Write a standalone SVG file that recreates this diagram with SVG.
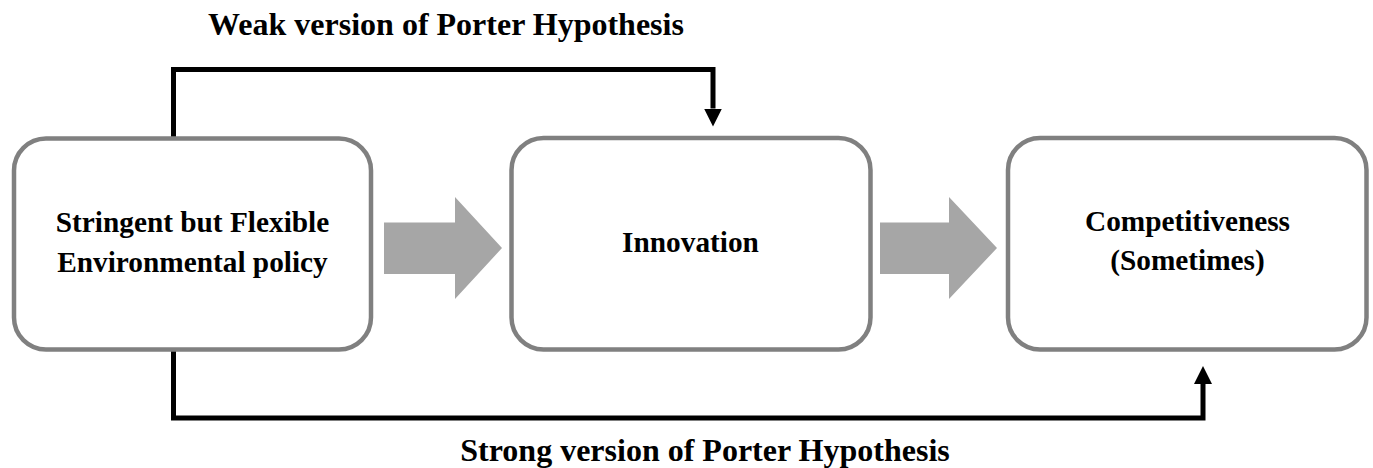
<svg xmlns="http://www.w3.org/2000/svg" width="1373" height="468" viewBox="0 0 1373 468">
  <style>
    .box { fill: #ffffff; stroke: #808080; stroke-width: 4.5; }
    .lbl { font-family: "Liberation Serif", "Times New Roman", serif; font-weight: bold; fill: #000000; text-anchor: middle; }
    .node { font-size: 29.3px; }
    .title { font-size: 32px; }
    .conn { fill: none; stroke: #000000; stroke-width: 5; stroke-linejoin: miter; }
    .big { fill: #a6a6a6; }
  </style>
  <defs>
    <marker id="ah" viewBox="0 0 18 18" markerWidth="18" markerHeight="18" markerUnits="userSpaceOnUse" refX="0" refY="9" orient="auto">
      <path d="M0,0 L18,9 L0,18 Z" fill="#000000"/>
    </marker>
  </defs>
  <rect width="1373" height="468" fill="#ffffff"/>

  <g id="connectors">
    <path class="conn" d="M173.5,138 L173.5,69.5 L713,69.5 L713,108.5" marker-end="url(#ah)"/>
    <path class="conn" d="M173.5,350 L173.5,418 L1203,418 L1203,384" marker-end="url(#ah)"/>
    <polygon class="big" points="384,222.5 455,222.5 455,197 502,248 455,299 455,274 384,274"/>
    <polygon class="big" points="880,222.5 949,222.5 949,197 997,248 949,299 949,274 880,274"/>
  </g>

  <g id="label-weak">
    <text class="lbl title" x="446" y="35">Weak version of Porter Hypothesis</text>
  </g>
  <g id="label-strong">
    <text class="lbl title" x="705" y="461">Strong version of Porter Hypothesis</text>
  </g>

  <g id="node-policy">
    <rect class="box" x="14" y="138.5" width="357" height="211" rx="32" ry="32"/>
    <text class="lbl node" x="192.5" y="232">Stringent but Flexible</text>
    <text class="lbl node" x="192.5" y="272">Environmental policy</text>
  </g>
  <g id="node-innovation">
    <rect class="box" x="511.5" y="138" width="359" height="211.5" rx="32" ry="32"/>
    <text class="lbl node" x="690.5" y="252">Innovation</text>
  </g>
  <g id="node-competitiveness">
    <rect class="box" x="1008" y="138" width="358.5" height="211.5" rx="32" ry="32"/>
    <text class="lbl node" x="1187.5" y="231">Competitiveness</text>
    <text class="lbl node" x="1187.5" y="270">(Sometimes)</text>
  </g>
</svg>
